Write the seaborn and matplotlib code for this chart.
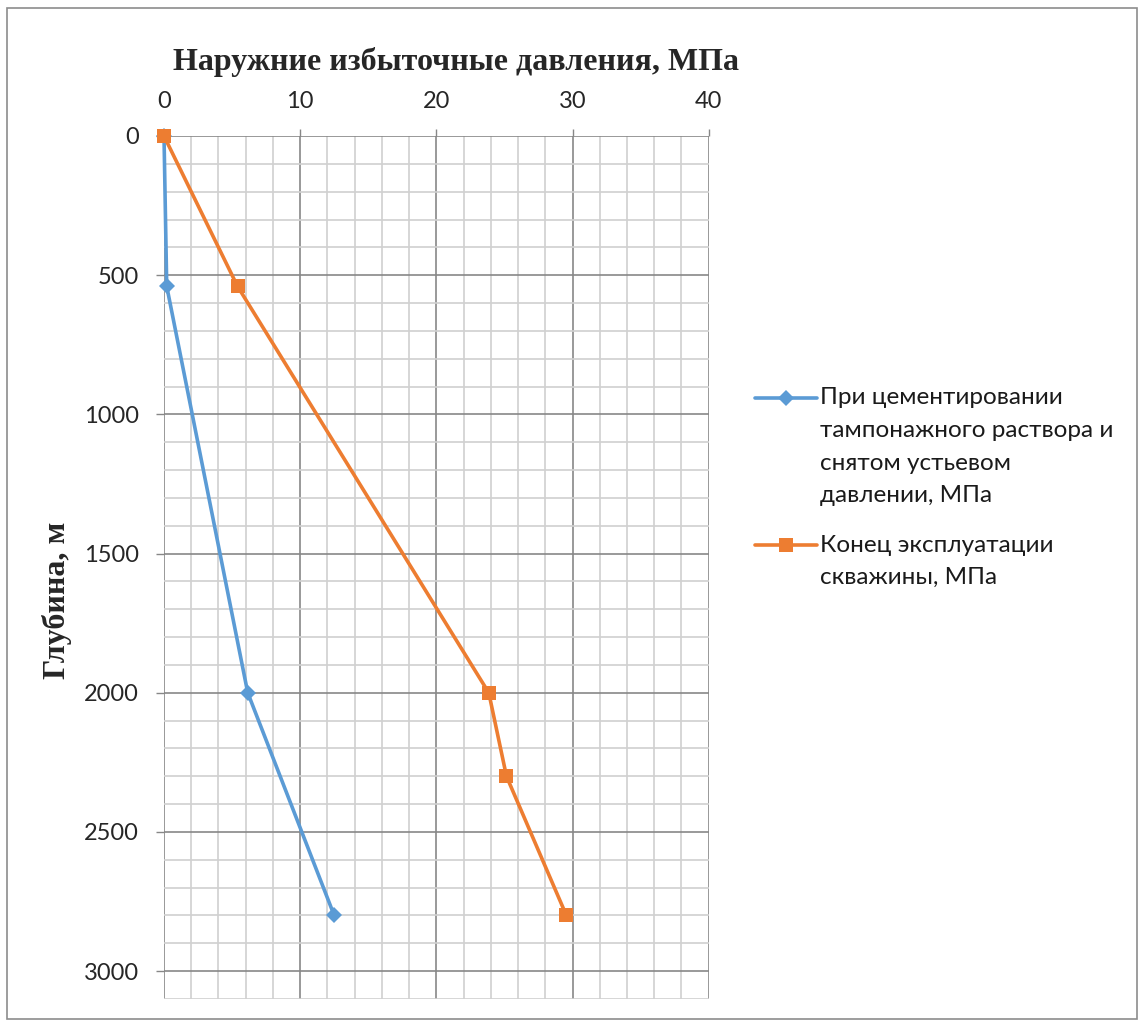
import matplotlib
matplotlib.use("Agg")
import matplotlib.pyplot as plt
from matplotlib.patches import Rectangle
from matplotlib.lines import Line2D
from matplotlib.ticker import MultipleLocator
import seaborn as sns
import pandas as pd

# Depth profiles of external excess pressure
depth_cement = [0, 540, 2000, 2800]
press_cement = [0.0, 0.2, 6.15, 12.5]
depth_end = [0, 540, 2000, 2300, 2800]
press_end = [0.0, 5.4, 23.85, 25.15, 29.55]

label_cement = ["При цементировании", "тампонажного раствора и",
                "снятом устьевом", "давлении, МПа"]
label_end = ["Конец эксплуатации", "скважины, МПа"]

title = "Наружние избыточные давления, МПа"
ylabel = "Глубина, м"

blue = "#5B9BD5"
orange = "#ED7D31"

sns.set_theme(style="white")
plt.rcParams["font.family"] = ["Lato", "DejaVu Sans"]

W, H = 1141, 1024
fig = plt.figure(figsize=(W / 100, H / 100), dpi=100)
ax = fig.add_axes([164 / W, 1 - 999 / H, 544.7 / W, (999 - 136) / H])

df_c = pd.DataFrame({"p": press_cement, "d": depth_cement})
df_e = pd.DataFrame({"p": press_end, "d": depth_end})

sty_c = dict(linewidth=2.6, marker="D", markersize=8.5, markeredgewidth=0)
sty_e = dict(linewidth=2.6, marker="s", markersize=10, markeredgewidth=0)

sns.lineplot(data=df_c, x="p", y="d", sort=False, ax=ax, color=blue,
             clip_on=False, zorder=4, legend=False, **sty_c)
sns.lineplot(data=df_e, x="p", y="d", sort=False, ax=ax, color=orange,
             clip_on=False, zorder=5, legend=False, **sty_e)

ax.set_xlim(0, 40)
ax.set_ylim(3100, 0)
ax.xaxis.set_major_locator(MultipleLocator(10))
ax.xaxis.set_minor_locator(MultipleLocator(2))
ax.yaxis.set_major_locator(MultipleLocator(500))
ax.yaxis.set_minor_locator(MultipleLocator(100))
ax.grid(which="major", color="#878787", linewidth=1.2)
ax.grid(which="minor", color="#d0d0d0", linewidth=1.2)
ax.set_axisbelow(True)

ax.xaxis.tick_top()
ax.tick_params(axis="x", which="major", top=True, bottom=False, direction="out",
               length=5, width=1, color="#878787", labelsize=17, pad=12)
ax.tick_params(axis="y", which="major", left=True, direction="out",
               length=6, width=1, color="#878787", labelsize=17, pad=12)
ax.tick_params(which="minor", length=0)
for s in ["top", "right", "left", "bottom"]:
    ax.spines[s].set_visible(False)
ax.set_xlabel("")
ax.set_ylabel("")

serif = ["Liberation Serif", "DejaVu Serif"]
fig.text(456 / W, 1 - 62 / H, title, ha="center", va="center", fontsize=23,
         fontweight="bold", family=serif)
fig.text(57 / W, 1 - 600 / H, ylabel, ha="center", va="center", rotation=90,
         fontsize=23, fontweight="bold", family=serif)

# Legend entries: handle aligned with the first text line
line_step = 32.5
for rows, y0, color, sty in [(label_cement, 398, blue, sty_c),
                             (label_end, 545, orange, sty_e)]:
    fig.add_artist(Line2D([755 / W, 786 / W, 817 / W], [1 - y0 / H] * 3,
                          transform=fig.transFigure, color=color,
                          markevery=[1], **sty))
    for i, row in enumerate(rows):
        fig.text(820 / W, 1 - (y0 + i * line_step) / H, row, ha="left",
                 va="center", fontsize=17.5, color="#1a1a1a")

fig.patches.append(Rectangle((7 / W, 1 - 1019 / H), 1130 / W, 1011 / H,
                             transform=fig.transFigure, fill=False,
                             edgecolor="#8c8c8c", linewidth=1.2))

fig.savefig("out.png", dpi=100)
